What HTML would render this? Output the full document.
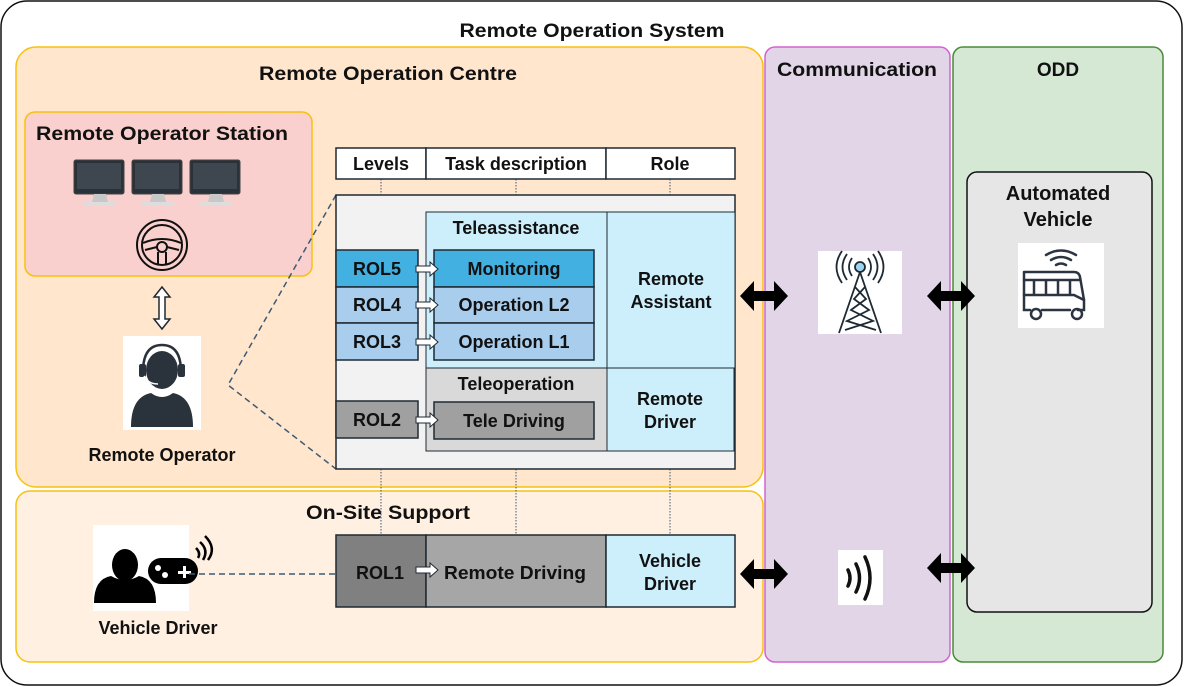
<!DOCTYPE html>
<html><head><meta charset="utf-8"><style>
html,body{margin:0;padding:0;background:#fff}
svg{display:block}
text{font-family:"Liberation Sans",Arial,sans-serif;font-weight:bold;fill:#111}
</style></head><body>
<svg width="1184" height="687" viewBox="0 0 1184 687" xmlns="http://www.w3.org/2000/svg">
<rect x="1" y="1" width="1181" height="684" rx="26" fill="#fff" stroke="#111" stroke-width="1.5"/>
<text x="592" y="37" font-size="19" text-anchor="middle" textLength="265" lengthAdjust="spacingAndGlyphs">Remote Operation System</text>

<rect x="16" y="47" width="747" height="440" rx="20" fill="#ffe6cc" stroke="#f7c10e" stroke-width="1.5"/>
<text x="388" y="80" font-size="19" text-anchor="middle" textLength="258" lengthAdjust="spacingAndGlyphs">Remote Operation Centre</text>
<rect x="16" y="491" width="747" height="171" rx="14" fill="#fff0e2" stroke="#f7c10e" stroke-width="1.5"/>
<text x="388" y="519" font-size="19" text-anchor="middle" textLength="164" lengthAdjust="spacingAndGlyphs">On-Site Support</text>
<rect x="765" y="47" width="185" height="615" rx="10" fill="#e1d5e7" stroke="#d463cf" stroke-width="1.5"/>
<text x="857" y="76" font-size="19" text-anchor="middle" textLength="160" lengthAdjust="spacingAndGlyphs">Communication</text>
<rect x="953" y="47" width="210" height="615" rx="10" fill="#d5e8d4" stroke="#4a8a3a" stroke-width="1.5"/>
<text x="1058" y="76" font-size="19" text-anchor="middle">ODD</text>
<rect x="967" y="172" width="185" height="440" rx="10" fill="#e6e6e6" stroke="#111" stroke-width="1.5"/>
<text x="1058" y="200" font-size="20" text-anchor="middle">Automated</text>
<text x="1058" y="226" font-size="20" text-anchor="middle">Vehicle</text>

<rect x="1018" y="243" width="86" height="85" fill="#fff"/>
<g fill="none" stroke="#2b3440" stroke-width="2.5" stroke-linecap="round">
<path d="M1046 255 q15 -9 30 0 M1051 260 q10 -6 20 0 M1056 265 q5 -3 10 0"/>
<path d="M1024 272 h50 q5 0 6 5 l4 23 v10 h-6 M1024 272 v38 h6 M1042 310 h28"/>
<path d="M1024 280 h56 M1034 280 v15 M1046 280 v15 M1058 280 v15 M1070 280 v15 M1024 295 h50 l10 5"/>
<circle cx="1036" cy="314" r="5"/><circle cx="1077" cy="314" r="5"/>
</g>

<rect x="818" y="251" width="84" height="83" fill="#fff"/>
<g fill="none" stroke="#1e2a33" stroke-width="1.8">
<circle cx="860" cy="267" r="5" fill="#9fd4f0"/>
<path d="M852 258 q-6 9 0 18 M868 258 q6 9 0 18 M847 254 q-9 13 0 26 M873 254 q9 13 0 26 M842 251 q-11 16 0 32 M878 251 q11 16 0 32"/>
<path d="M860 272 L839 333 M860 272 L881 333 M855 287 L866 299 L851 310 L873 321 L845 330 M865 287 L854 299 L869 310 L847 321 L876 330"/>
</g>

<rect x="838" y="550" width="45" height="55" fill="#fff"/>
<g fill="none" stroke="#111" stroke-width="3.5" stroke-linecap="round">
<path d="M848 570 q4 8 0 16"/><path d="M856 564 q7 14 0 28"/><path d="M865 557 q10 21 0 42"/>
</g>

<g fill="#000">
<path d="M740 296 l14 -15 v10 h20 v-10 l14 15 l-14 15 v-10 h-20 v10 z"/>
<path d="M927 296 l14 -15 v10 h20 v-10 l14 15 l-14 15 v-10 h-20 v10 z"/>
<path d="M740 574 l14 -15 v10 h20 v-10 l14 15 l-14 15 v-10 h-20 v10 z"/>
<path d="M927 568 l14 -15 v10 h20 v-10 l14 15 l-14 15 v-10 h-20 v10 z"/>
</g>

<rect x="25" y="112" width="287" height="164" rx="10" fill="#f9d0cd" stroke="#f7c10e" stroke-width="1.5"/>
<text x="162" y="140" font-size="19" text-anchor="middle" textLength="252" lengthAdjust="spacingAndGlyphs">Remote Operator Station</text>
<g>
<g id="mon">
<rect x="74" y="160" width="50" height="34" rx="2" fill="#2b3138" stroke="#444" stroke-width="1"/>
<rect x="77" y="163" width="44" height="26" fill="#3e4650"/>
<path d="M94 194 h12 l2 8 h-16 z" fill="#c8c8c8"/>
<rect x="84" y="202" width="32" height="3" fill="#ddd"/>
</g>
<use href="#mon" x="58"/><use href="#mon" x="116"/>
</g>
<g fill="none" stroke="#111" stroke-width="2">
<circle cx="162" cy="245" r="25"/><circle cx="162" cy="245" r="20"/>
<path d="M143 243 q19 -8 38 0 M145 250 l12 -3 M179 250 l-12 -3 M158 252 v12 M166 252 v12"/>
<circle cx="162" cy="247" r="5"/>
</g>

<path d="M162 287 l-8 10 h5 v22 h-5 l8 10 l8 -10 h-5 v-22 h5 z" fill="#fff" stroke="#1e2a33" stroke-width="1.5"/>

<rect x="123" y="336" width="78" height="94" fill="#fff"/>
<g fill="#2a323b">
<ellipse cx="162" cy="370" rx="16" ry="19"/>
<path d="M131 427 q0 -30 20 -34 q11 8 22 0 q20 4 20 34 z"/>
</g>
<g fill="none" stroke="#2a323b" stroke-width="2.5">
<path d="M143 372 q0 -27 19 -27 q19 0 19 27"/>
</g>
<rect x="139" y="364" width="7" height="13" rx="2" fill="#2a323b"/>
<rect x="178" y="364" width="7" height="13" rx="2" fill="#2a323b"/>
<path d="M144 376 q4 8 14 8" fill="none" stroke="#fff" stroke-width="1.5"/>
<text x="162" y="461" font-size="18" text-anchor="middle">Remote Operator</text>

<path d="M336 195 L228 385 L336 469" fill="none" stroke="#3d5a75" stroke-width="1.5" stroke-dasharray="6,4"/>

<g stroke="#3d5a75" stroke-width="1" stroke-dasharray="1.5,1.5">
<path d="M381 179 V195 M516 179 V195 M670 179 V195"/>
<path d="M381 469 V535 M516 469 V535 M670 469 V535"/>
</g>

<g stroke="#1e2a33" stroke-width="1.5" fill="#fff">
<rect x="336" y="148" width="90" height="31"/>
<rect x="426" y="148" width="180" height="31"/>
<rect x="606" y="148" width="129" height="31"/>
</g>
<g font-size="18" text-anchor="middle">
<text x="381" y="170">Levels</text>
<text x="516" y="170">Task description</text>
<text x="670" y="170">Role</text>
</g>

<rect x="336" y="195" width="399" height="274" fill="#f2f2f2" stroke="#1e2a33" stroke-width="1.5"/>
<rect x="426" y="212" width="181" height="156" fill="#cdeefb" stroke="#1e2a33" stroke-width="1"/>
<rect x="607" y="212" width="128" height="156" fill="#cdeefb" stroke="#1e2a33" stroke-width="1"/>
<rect x="426" y="368" width="181" height="83" fill="#d9d9d9" stroke="#1e2a33" stroke-width="1"/>
<rect x="607" y="368" width="127" height="83" fill="#cdeefb" stroke="#1e2a33" stroke-width="1"/>
<g stroke="#1e2a33" stroke-width="1.5">
<rect x="336" y="250" width="82" height="37" fill="#42b0e1"/>
<rect x="336" y="287" width="82" height="36" fill="#a9cdec"/>
<rect x="336" y="323" width="82" height="37" fill="#a9cdec"/>
<rect x="434" y="250" width="160" height="37" fill="#42b0e1"/>
<rect x="434" y="287" width="160" height="36" fill="#a9cdec"/>
<rect x="434" y="323" width="160" height="37" fill="#a9cdec"/>
<rect x="336" y="401" width="82" height="37" fill="#a0a0a0"/>
<rect x="434" y="402" width="160" height="37" fill="#a0a0a0"/>
</g>
<g fill="#fff" stroke="#1e2a33" stroke-width="1">
<path d="M416 266 h14 v-4 l8 7 l-8 7 v-4 h-14 z"/>
<path d="M416 302 h14 v-4 l8 7 l-8 7 v-4 h-14 z"/>
<path d="M416 339 h14 v-4 l8 7 l-8 7 v-4 h-14 z"/>
<path d="M416 417 h14 v-4 l8 7 l-8 7 v-4 h-14 z"/>
</g>
<g font-size="18" text-anchor="middle">
<text x="516" y="234">Teleassistance</text>
<text x="377" y="275">ROL5</text>
<text x="377" y="311">ROL4</text>
<text x="377" y="348">ROL3</text>
<text x="377" y="426">ROL2</text>
<text x="514" y="275">Monitoring</text>
<text x="514" y="311">Operation L2</text>
<text x="514" y="348">Operation L1</text>
<text x="516" y="390">Teleoperation</text>
<text x="514" y="427">Tele Driving</text>
<text x="671" y="285">Remote</text>
<text x="671" y="308">Assistant</text>
<text x="670" y="405">Remote</text>
<text x="670" y="428">Driver</text>
</g>

<g stroke="#1e2a33" stroke-width="1.5">
<rect x="336" y="535" width="90" height="72" fill="#808080"/>
<rect x="426" y="535" width="180" height="72" fill="#a6a6a6"/>
<rect x="606" y="535" width="129" height="72" fill="#cdeefb"/>
</g>
<path d="M416 567 h14 v-4 l8 7 l-8 7 v-4 h-14 z" fill="#fff" stroke="#1e2a33" stroke-width="1"/>
<g font-size="18" text-anchor="middle">
<text x="380" y="579">ROL1</text>
<text x="515" y="579" textLength="142" lengthAdjust="spacingAndGlyphs">Remote Driving</text>
<text x="670" y="567">Vehicle</text>
<text x="670" y="590">Driver</text>
</g>

<rect x="93" y="525" width="96" height="86" fill="#fff"/>
<g fill="#000">
<ellipse cx="125" cy="565" rx="13" ry="16"/>
<path d="M94 603 q0 -24 17 -27 q14 8 28 0 q17 3 17 27 z"/>
<rect x="148" y="558" width="50" height="26" rx="13"/>
</g>
<g fill="#fff"><circle cx="158" cy="568" r="3"/><circle cx="165" cy="575" r="3"/><rect x="183" y="566" width="3" height="12"/><rect x="178" y="571" width="13" height="3"/></g>
<g fill="none" stroke="#000" stroke-width="2.5"><path d="M196 548 q5 5 2 10 M200 542 q9 8 3 18 M205 536 q12 12 3 24"/></g>
<text x="158" y="634" font-size="18" text-anchor="middle">Vehicle Driver</text>
<path d="M189 574 H336" stroke="#3d5a75" stroke-width="1.5" stroke-dasharray="6,4"/>
</svg>
</body></html>
